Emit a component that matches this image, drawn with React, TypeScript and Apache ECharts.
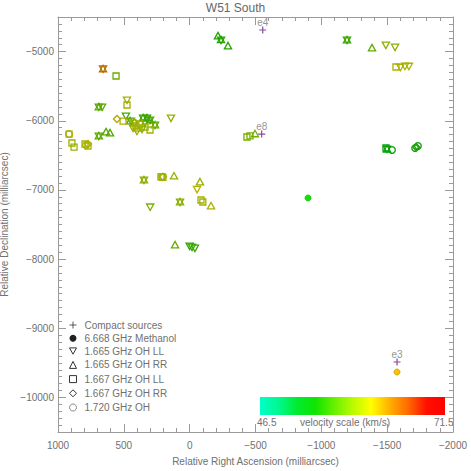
import React, { useEffect, useRef } from 'react';
import * as echarts from 'echarts';

const TITLE = 'W51 South';
const X_NAME = 'Relative Right Ascension (milliarcsec)';
const Y_NAME = 'Relative Declination (milliarcsec)';
const COLORBAR_LABEL = 'velocity scale (km/s)';

const VEL_MIN = 46.5;
const VEL_MAX = 71.5;
const VEL_COLORS = [
  '#00ffc8', '#00f890', '#00ec30', '#10e400', '#66f000', '#b8fa00',
  '#ffff00', '#ffb000', '#ff6a00', '#ff1000', '#ff0000',
];

const X_TICKS = [1000, 500, 0, -500, -1000, -1500, -2000];
const Y_TICKS = [-5000, -6000, -7000, -8000, -9000, -10000];

// Compact continuum sources
const compactNames = ['e4', 'e8', 'e3'];
const compactRA = [-555, -547, -1575];
const compactDec = [-4688, -6192, -9488];

// [RA offset, Dec offset, velocity km/s]
const methanol6668 = [
  [-899, -7117, 54],
  [-1575, -9633, 63.5],
];

const oh1665LL = [
  [-238, -4833, 55], [-1195, -4833, 56], [-1490, -4905, 59.5], [-1560, -4935, 59.5],
  [-1600, -5225, 61], [-1635, -5210, 61], [-1665, -5210, 61],
  [658, -5250, 64.5], [476, -5700, 61], [690, -5800, 57], [665, -5800, 57.5],
  [142, -5960, 60], [484, -5930, 56.5], [400, -6150, 60], [362, -6120, 59], [446, -6004, 57],
  [354, -5960, 56], [324, -5960, 56], [301, -5990, 56.5], [263, -6061, 58],
  [430, -6105, 60], [339, -6030, 59],
  [690, -6220, 57.5], [347, -6857, 59.5], [-56, -6990, 61.5], [73, -7175, 59.5],
  [300, -7245, 58.5], [-18, -7825, 56], [-40, -7840, 56], [0, -7810, 55.5],
  [-1499, -6410, 53],
];

const oh1665RR = [
  [-215, -4775, 55], [-238, -4830, 55], [-291, -4920, 55], [-1195, -4833, 56],
  [-1385, -4948, 57.5], [658, -5250, 64.5], [690, -5800, 57],
  [354, -5960, 56], [324, -5960, 56], [301, -5990, 56.5], [263, -6061, 58],
  [690, -6220, 57.5], [635, -6163, 57], [605, -6177, 57], [347, -6857, 59.5],
  [119, -6800, 60], [-78, -6885, 60], [73, -7175, 59.5], [-162, -7233, 61],
  [111, -7797, 58], [-496, -6190, 58.5], [-1499, -6410, 53], [453, -6004, 57],
];

const oh1667LL = [
  [559, -5353, 58], [476, -5772, 60.5], [430, -6033, 60], [408, -6076, 60.5],
  [377, -6047, 60], [392, -6105, 61], [506, -6004, 61], [916, -6192, 61],
  [339, -6090, 60], [301, -6134, 60.5],
  [894, -6322, 60.5], [878, -6380, 60.5], [795, -6336, 61], [772, -6365, 61],
  [210, -6813, 60.5], [218, -6810, 60.5], [203, -6820, 60.5],
  [-86, -7146, 60.5], [-100, -7175, 60.5], [-435, -6235, 58.5], [-458, -6220, 58.5],
  [-1567, -5223, 61], [-1491, -6394, 53],
];

const oh1667RR = [
  [552, -5975, 62], [420, -6020, 60], [-1720, -6380, 54], [772, -6336, 61], [203, -6810, 60.5],
];

const oh1720 = [
  [916, -6192, 61], [-1537, -6423, 54], [-1734, -6365, 54], [-1712, -6395, 54.5], [787, -6350, 61],
];

const FONT = '"Liberation Sans", Arial, sans-serif';
const AXIS_COLOR = '#9a9a9a';
const TEXT_COLOR = '#707070';

const minus = (v: number) => (v < 0 ? '\u2212' + Math.abs(v) : String(v));

function darken(color: string, k: number) {
  const arr = echarts.color.parse(color);
  if (!arr) return color;
  return echarts.color.stringify([arr[0] * k, arr[1] * k, arr[2] * k].map(Math.round) as any, 'rgb');
}

type Kind = 'down' | 'up' | 'square' | 'diamond' | 'circle' | 'dot';

function makeRender(kind: Kind) {
  const S = 3.6;
  return (params: any, api: any) => {
    const p = api.coord([api.value(0), api.value(1)]);
    const x = p[0];
    const y = p[1];
    const base = api.visual('color');
    const c = darken(base, 0.7);
    const stroke = { fill: 'none', stroke: c, lineWidth: 1.3 };
    switch (kind) {
      case 'down':
        return { type: 'polygon', shape: { points: [[x - S, y - S * 0.8], [x + S, y - S * 0.8], [x, y + S]] }, style: stroke };
      case 'up':
        return { type: 'polygon', shape: { points: [[x - S, y + S * 0.8], [x + S, y + S * 0.8], [x, y - S]] }, style: stroke };
      case 'square':
        return { type: 'rect', shape: { x: x - 3, y: y - 3, width: 6, height: 6 }, style: stroke };
      case 'diamond':
        return { type: 'polygon', shape: { points: [[x - 3.5, y], [x, y - 3.5], [x + 3.5, y], [x, y + 3.5]] }, style: stroke };
      case 'circle':
        return { type: 'circle', shape: { cx: x, cy: y, r: 3.3 }, style: stroke };
      default:
        return { type: 'circle', shape: { cx: x, cy: y, r: 3 }, style: { fill: base, stroke: darken(base, 0.8), lineWidth: 0.8 } };
    }
  };
}

const customSeries = (name: string, data: number[][], kind: Kind) => ({
  name,
  type: 'custom',
  data,
  encode: { x: 0, y: 1 },
  renderItem: makeRender(kind),
});

export default function App() {
  const ref = useRef<HTMLDivElement>(null);

  useEffect(() => {
    if (!ref.current) return;
    const chart = echarts.init(ref.current, null, { renderer: 'svg' });

    const xCommon = {
      type: 'value',
      min: -2000,
      max: 1000,
      interval: 500,
      inverse: true,
      splitLine: { show: false },
      axisLine: { show: true, onZero: false, lineStyle: { color: AXIS_COLOR } },
      axisTick: { show: true, inside: true, length: 8, lineStyle: { color: AXIS_COLOR } },
      minorTick: { show: true, splitNumber: 5, length: 4, lineStyle: { color: AXIS_COLOR } },
    };
    const yMain = {
      type: 'value',
      min: -10500,
      max: -4500,
      splitNumber: 6,
      splitLine: { show: false },
      axisLine: { show: true, onZero: false, lineStyle: { color: AXIS_COLOR } },
      axisTick: { show: true, inside: true, length: 8, lineStyle: { color: AXIS_COLOR } },
    };
    const yMinor = {
      type: 'value',
      min: -10500,
      max: -4500,
      interval: 100,
      splitLine: { show: false },
      axisLine: { show: false, onZero: false },
      axisLabel: { show: false },
      axisTick: { show: true, inside: true, length: 4, lineStyle: { color: AXIS_COLOR } },
    };

    const stops = VEL_COLORS.map((c, i) => ({ offset: i / (VEL_COLORS.length - 1), color: c }));

    const legendHollow = { color: 'none', borderColor: '#333', borderWidth: 1 };

    chart.setOption({
      animation: false,
      backgroundColor: '#ffffff',
      title: {
        text: TITLE,
        left: 'center',
        top: 2,
        padding: 0,
        textStyle: { color: '#666', fontSize: 12, fontWeight: 'normal', fontFamily: FONT },
      },
      grid: { left: 58, right: 18, top: 17, bottom: 39, outerBoundsMode: 'none', containLabel: false },
      xAxis: [
        {
          ...xCommon,
          position: 'bottom',
          name: X_NAME,
          nameLocation: 'middle',
          nameGap: 24,
          nameTextStyle: { color: TEXT_COLOR, fontSize: 10, fontFamily: FONT },
          axisLabel: {
            color: TEXT_COLOR, fontSize: 10, fontFamily: FONT, margin: 8,
            formatter: (v: number) => (X_TICKS.includes(v) ? minus(v) : ''),
          },
        },
        { ...xCommon, position: 'top', axisLabel: { show: false } },
      ],
      yAxis: [
        {
          ...yMain,
          position: 'left',
          name: Y_NAME,
          nameLocation: 'middle',
          nameGap: 47,
          nameTextStyle: { color: TEXT_COLOR, fontSize: 10, fontFamily: FONT },
          axisLabel: {
            color: TEXT_COLOR, fontSize: 10, fontFamily: FONT, margin: 4,
            formatter: (v: number) => (Y_TICKS.includes(v) ? minus(v) : ''),
          },
        },
        { ...yMinor, position: 'left' },
        { ...yMain, position: 'right', axisLabel: { show: false } },
        { ...yMinor, position: 'right' },
      ],
      visualMap: {
        type: 'continuous',
        show: false,
        min: VEL_MIN,
        max: VEL_MAX,
        dimension: 2,
        seriesIndex: [1, 2, 3, 4, 5, 6],
        inRange: { color: VEL_COLORS },
      },
      legend: {
        orient: 'vertical',
        left: 67,
        top: 319,
        padding: 0,
        itemWidth: 7,
        itemHeight: 7,
        itemGap: 2.2,
        selectedMode: false,
        textStyle: { color: TEXT_COLOR, fontSize: 10, lineHeight: 10, fontFamily: FONT, padding: [0, 0, 0, 3] },
        data: [
          { name: 'Compact sources', icon: 'path://M5,0L5,10M0,5L10,5', itemStyle: legendHollow },
          { name: '6.668 GHz Methanol', icon: 'circle', itemStyle: { color: '#222', borderWidth: 0 } },
          { name: '1.665 GHz OH LL', icon: 'path://M0,0L10,0L5,9Z', itemStyle: legendHollow },
          { name: '1.665 GHz OH RR', icon: 'triangle', itemStyle: legendHollow },
          { name: '1.667 GHz OH LL', icon: 'rect', itemStyle: legendHollow },
          { name: '1.667 GHz OH RR', icon: 'diamond', itemStyle: legendHollow },
          { name: '1.720 GHz OH', icon: 'circle', itemStyle: { color: 'none', borderColor: '#888', borderWidth: 1 } },
        ],
      },
      graphic: [
        {
          type: 'rect',
          left: 260,
          top: 397,
          shape: { width: 185, height: 18 },
          style: { fill: new echarts.graphic.LinearGradient(0, 0, 1, 0, stops) },
        },
        {
          type: 'text', left: 257, top: 417,
          style: { text: String(VEL_MIN), fill: TEXT_COLOR, fontSize: 10, fontFamily: FONT },
        },
        {
          type: 'text', left: 300, top: 417,
          style: { text: COLORBAR_LABEL, fill: TEXT_COLOR, fontSize: 10, fontFamily: FONT },
        },
        {
          type: 'text', left: 434, top: 417,
          style: { text: String(VEL_MAX), fill: TEXT_COLOR, fontSize: 10, fontFamily: FONT },
        },
      ],
      series: [
        {
          name: 'Compact sources',
          type: 'scatter',
          data: compactRA.map((ra, i) => ({ name: compactNames[i], value: [ra, compactDec[i]] })),
          symbol: 'path://M5,0L5,10M0,5L10,5',
          symbolSize: 7,
          itemStyle: { color: 'none', borderColor: '#6a1b8a', borderWidth: 1.2 },
          label: { show: true, position: 'top', distance: -3, formatter: '{b}', color: '#777', fontSize: 10, fontFamily: FONT },
          z: 5,
        },
        customSeries('6.668 GHz Methanol', methanol6668, 'dot'),
        customSeries('1.665 GHz OH LL', oh1665LL, 'down'),
        customSeries('1.665 GHz OH RR', oh1665RR, 'up'),
        customSeries('1.667 GHz OH LL', oh1667LL, 'square'),
        customSeries('1.667 GHz OH RR', oh1667RR, 'diamond'),
        customSeries('1.720 GHz OH', oh1720, 'circle'),
      ],
    });

    return () => chart.dispose();
  }, []);

  return <div ref={ref} style={{ position: 'fixed', left: 0, top: 0, width: 471, height: 471 }} />;
}
